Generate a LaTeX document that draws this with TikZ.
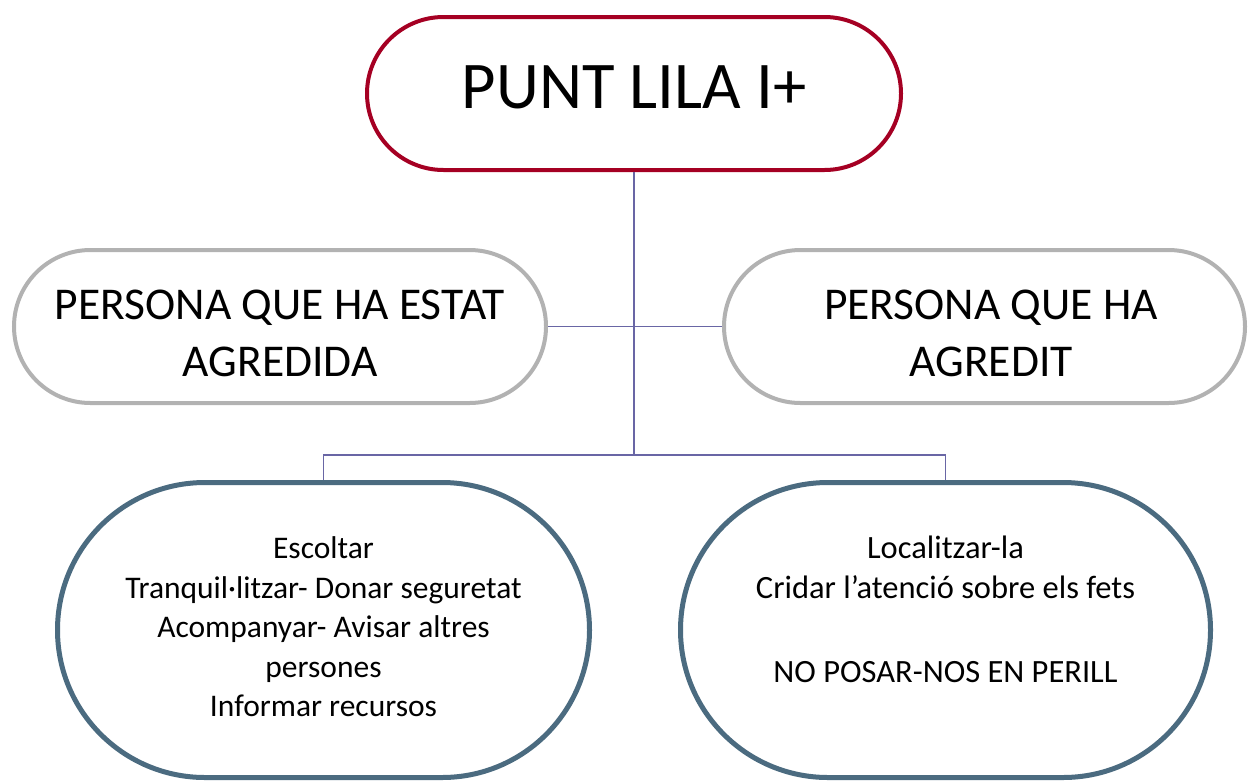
\documentclass[tikz,border=0pt]{standalone}
\usepackage{fontspec}
\setmainfont{Carlito}
\definecolor{topred}{RGB}{165,0,35}
\definecolor{midgray}{RGB}{178,178,178}
\definecolor{botblue}{RGB}{75,107,128}
\definecolor{linkc}{RGB}{105,102,165}
\newcommand{\padtop}[1]{\rule{0pt}{#1}}
\newcommand{\padbot}[1]{\rule[-#1]{0pt}{#1}}
\begin{document}
\begin{tikzpicture}[x=1pt,y=-1pt,
  pill/.style={draw,fill=white,rectangle,inner sep=0pt,align=center,text=black},
  toppill/.style={pill,draw=topred,line width=4pt,minimum width=534pt,minimum height=153pt,rounded corners=76.5pt,font=\fontsize{66.7}{80}\selectfont},
  midpill/.style={pill,draw=midgray,line width=4pt,minimum height=153pt,rounded corners=76.5pt,font=\fontsize{45.5}{57}\selectfont},
  botpill/.style={pill,draw=botblue,line width=5pt,minimum height=295pt,rounded corners=147.5pt},
  link/.style={draw=linkc,line width=1.6pt}]
\useasboundingbox (0,0) rectangle (1249,782);
\node[toppill,text depth=13pt] (top) at (634,93.5) {PUNT LILA I+};
\node[midpill,minimum width=532pt] (lg) at (280,326.5) {\padtop{44pt}PERSONA QUE HA ESTAT\\AGREDIDA};
\node[midpill,minimum width=521pt] (rg) at (984.5,326.5) {\padtop{44pt}\hspace*{13pt}PERSONA QUE HA\\\hspace*{13pt}AGREDIT};
\node[botpill,minimum width=532pt,font=\fontsize{31.5}{39.5}\selectfont] (bl) at (323.5,630) {Escoltar\\Tranquil·litzar- Donar seguretat\\Acompanyar- Avisar altres\\persones\\Informar recursos\padbot{6pt}};
\node[botpill,minimum width=530pt,font=\fontsize{32.5}{40}\selectfont] (br) at (945.5,630) {Localitzar-la\\Cridar l’atenció sobre els fets\\[44pt]NO POSAR-NOS EN PERILL\padbot{41.5pt}};
\coordinate (hub) at (634,455);
\draw[link] (top.south) -- (hub);
\draw[link] (lg.east) -- (rg.west);
\draw[link] (bl.north) |- (hub) -| (br.north);
\end{tikzpicture}
\end{document}
